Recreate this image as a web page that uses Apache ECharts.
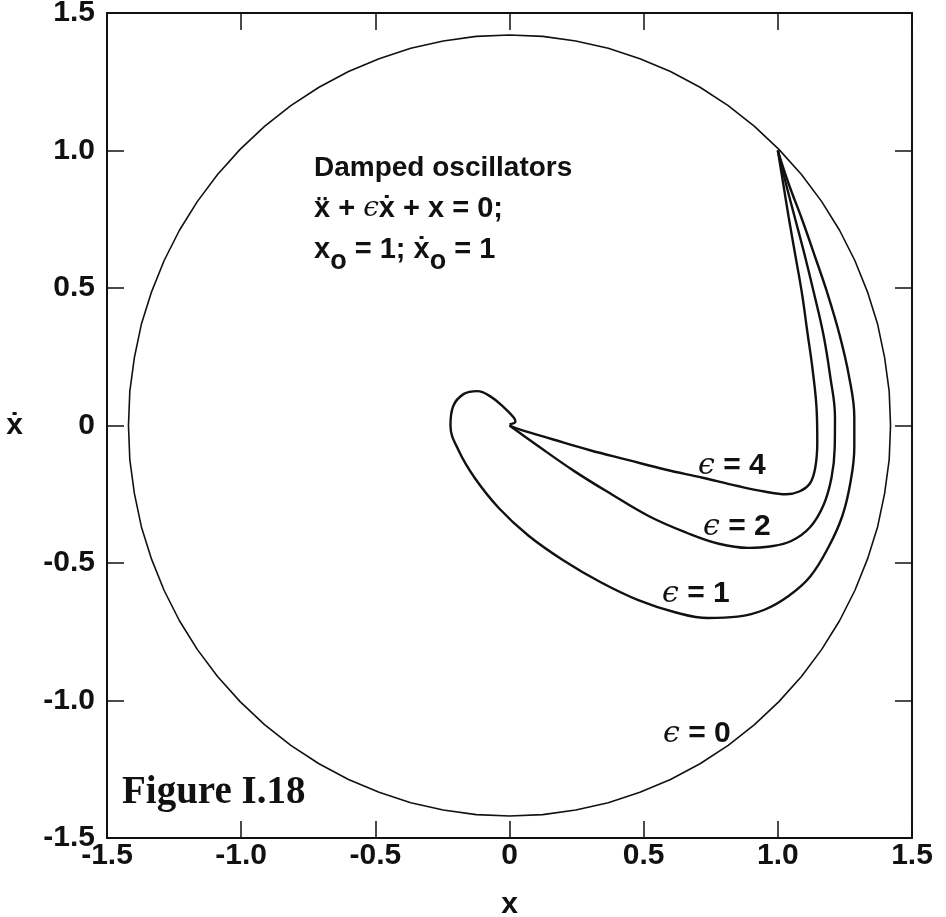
<!DOCTYPE html>
<html>
<head>
<meta charset="utf-8">
<title>Damped oscillators</title>
<script src="https://cdn.jsdelivr.net/npm/echarts@6/dist/echarts.min.js"></script>
</head>
<body style="margin:0; background:#fff;">
<div id="main" style="width: 946px; height: 917px;"></div>
<script type="text/javascript">

// axis ticks, x and xdot both run -1.5 .. 1.5
var tickValues = [-1.5, -1.0, -0.5, 0, 0.5, 1.0, 1.5];
var tickLabels = ['-1.5', '-1.0', '-0.5', '0', '0.5', '1.0', '1.5'];

// eps = 0, undamped: circle through (1, 1), read clockwise
var eps0 = [
    [1.004, 1.004], [1.088, 0.913], [1.163, 0.815], [1.230, 0.710], [1.287, 0.600], [1.334, 0.486],
    [1.372, 0.368], [1.398, 0.247], [1.415, 0.124], [1.420, 0.0],
    [1.415, -0.124], [1.398, -0.247], [1.372, -0.368], [1.334, -0.486], [1.287, -0.600], [1.230, -0.710],
    [1.163, -0.815], [1.088, -0.913], [1.004, -1.004], [0.913, -1.088], [0.815, -1.163], [0.710, -1.230],
    [0.600, -1.287], [0.486, -1.334], [0.368, -1.372], [0.247, -1.398], [0.124, -1.415], [0.0, -1.420],
    [-0.124, -1.415], [-0.247, -1.398], [-0.368, -1.372], [-0.486, -1.334], [-0.600, -1.287], [-0.710, -1.230],
    [-0.815, -1.163], [-0.913, -1.088], [-1.004, -1.004], [-1.088, -0.913], [-1.163, -0.815], [-1.230, -0.710],
    [-1.287, -0.600], [-1.334, -0.486], [-1.372, -0.368], [-1.398, -0.247], [-1.415, -0.124], [-1.420, 0.0],
    [-1.415, 0.124], [-1.398, 0.247], [-1.372, 0.368], [-1.334, 0.486], [-1.287, 0.600], [-1.230, 0.710],
    [-1.163, 0.815], [-1.088, 0.913], [-1.004, 1.004], [-0.913, 1.088], [-0.815, 1.163], [-0.710, 1.230],
    [-0.600, 1.287], [-0.486, 1.334], [-0.368, 1.372], [-0.247, 1.398], [-0.124, 1.415], [0.0, 1.420],
    [0.124, 1.415], [0.247, 1.398], [0.368, 1.372], [0.486, 1.334], [0.600, 1.287], [0.710, 1.230],
    [0.815, 1.163], [0.913, 1.088], [1.004, 1.004]
];

// eps = 1
var eps1 = [
    [1.0, 1.0], [1.04, 0.88], [1.09, 0.75], [1.14, 0.61], [1.185, 0.48], [1.23, 0.33],
    [1.265, 0.18], [1.285, 0.03], [1.285, -0.08], [1.27, -0.21], [1.24, -0.33], [1.19, -0.44],
    [1.12, -0.55], [1.04, -0.62], [0.95, -0.67], [0.85, -0.695], [0.74, -0.70], [0.62, -0.68],
    [0.48, -0.635], [0.34, -0.57], [0.20, -0.49], [0.07, -0.40], [-0.04, -0.30], [-0.13, -0.19],
    [-0.19, -0.09], [-0.22, 0.0], [-0.21, 0.07], [-0.17, 0.115], [-0.12, 0.125], [-0.07, 0.105],
    [-0.02, 0.065], [0.015, 0.03], [0.022, 0.015], [0.0, 0.004]
];

// eps = 2
var eps2 = [
    [1.0, 1.0], [1.03, 0.88], [1.065, 0.75], [1.10, 0.62], [1.135, 0.48], [1.17, 0.33],
    [1.195, 0.18], [1.213, 0.03], [1.212, -0.08], [1.20, -0.19], [1.17, -0.29], [1.12, -0.37],
    [1.05, -0.42], [0.97, -0.44], [0.89, -0.445], [0.78, -0.43], [0.66, -0.39], [0.52, -0.33],
    [0.38, -0.25], [0.24, -0.165], [0.10, -0.07], [0.0, 0.0]
];

// eps = 4
var eps4 = [
    [1.0, 1.0], [1.02, 0.88], [1.04, 0.76], [1.065, 0.62], [1.09, 0.48], [1.11, 0.34],
    [1.13, 0.20], [1.145, 0.05], [1.147, -0.06], [1.14, -0.15], [1.12, -0.21], [1.08, -0.24],
    [1.03, -0.25], [0.95, -0.24], [0.85, -0.22], [0.72, -0.19], [0.58, -0.16], [0.44, -0.125],
    [0.30, -0.09], [0.16, -0.05], [0.04, -0.015], [0.0, 0.0]
];

var ink = '#111';
var sans = '"Liberation Sans", Arial, sans-serif';

function tickText(v) {
    var i = Math.round((v - tickValues[0]) / 0.5);
    return tickLabels[i];
}

function axis(pos, withLabels, name, gap) {
    var a = {
        type: 'value',
        position: pos,
        min: -1.5,
        max: 1.5,
        interval: 0.5,
        axisLine: { show: true, onZero: false, lineStyle: { color: ink, width: 2 } },
        axisTick: { show: true, inside: true, length: 17, lineStyle: { color: ink, width: 1.5 } },
        splitLine: { show: false },
        axisLabel: {
            show: withLabels,
            formatter: tickText,
            color: ink,
            fontSize: 30,
            fontWeight: 'bold',
            fontFamily: sans,
            margin: (pos === 'left') ? 12 : 3
        }
    };
    if (name) {
        a.name = name;
        a.nameLocation = 'middle';
        a.nameGap = gap;
        a.nameRotate = 0;
        a.nameTextStyle = { color: ink, fontSize: 30, fontWeight: 'bold', fontFamily: sans };
    }
    return a;
}

function curve(name, data, width, smooth) {
    return {
        name: name,
        type: 'line',
        data: data,
        smooth: smooth,
        showSymbol: false,
        silent: true,
        lineStyle: { color: ink, width: width }
    };
}

function epsLabel(x, y, val) {
    return {
        type: 'text',
        x: x,
        y: y,
        style: {
            text: '{e|\u03f5}{b| = ' + val + '}',
            verticalAlign: 'middle',
            align: 'left',
            fill: ink,
            rich: {
                e: { fontSize: 30, fontStyle: 'italic', fontFamily: '"DejaVu Serif", serif', fill: ink },
                b: { fontSize: 30, fontWeight: 'bold', fontFamily: sans, fill: ink }
            }
        }
    };
}

var myChart = echarts.init(document.getElementById('main'));

var option = {
    animation: false,
    backgroundColor: '#fff',
    grid: { left: 107, top: 13, width: 805, height: 825, outerBoundsMode: 'none', containLabel: false },
    xAxis: [
        axis('bottom', true, 'x', 52),
        axis('top', false)
    ],
    yAxis: [
        axis('left', true, '\u1e8b', 84),
        axis('right', false)
    ],
    series: [
        curve('eps0', eps0, 1.6, false),
        curve('eps1', eps1, 2.4, 0.4),
        curve('eps2', eps2, 2.4, 0.4),
        curve('eps4', eps4, 2.4, 0.4)
    ],
    graphic: [
        {
            type: 'text', x: 314, y: 168,
            style: { text: 'Damped oscillators', fill: ink, fontSize: 28, fontWeight: 'bold', fontFamily: sans, verticalAlign: 'middle' }
        },
        {
            type: 'text', x: 314, y: 209,
            style: {
                text: '{b|\u1e8d + }{e|\u03f5}{b|\u1e8b + x = 0;}',
                verticalAlign: 'middle',
                rich: {
                    b: { fontSize: 29, fontWeight: 'bold', fontFamily: sans, fill: ink },
                    e: { fontSize: 28, fontStyle: 'italic', fontFamily: '"DejaVu Serif", serif', fill: ink }
                }
            }
        },
        {
            type: 'text', x: 314, y: 250,
            style: {
                text: '{b|x}{s|o}{b| = 1; \u1e8b}{s|o}{b| = 1}',
                verticalAlign: 'middle',
                rich: {
                    b: { fontSize: 29, fontWeight: 'bold', fontFamily: sans, fill: ink },
                    s: { fontSize: 27, fontWeight: 'bold', fontFamily: sans, fill: ink, padding: [24, 0, 0, 0] }
                }
            }
        },
        epsLabel(698, 466, '4'),
        epsLabel(703, 527, '2'),
        epsLabel(662, 594, '1'),
        epsLabel(663, 734, '0'),
        {
            type: 'text', x: 122, y: 793,
            style: { text: 'Figure I.18', fill: ink, fontSize: 39, fontWeight: 'bold', fontFamily: '"Liberation Serif", serif', verticalAlign: 'middle' }
        }
    ]
};

myChart.setOption(option);
</script>
</body>
</html>
